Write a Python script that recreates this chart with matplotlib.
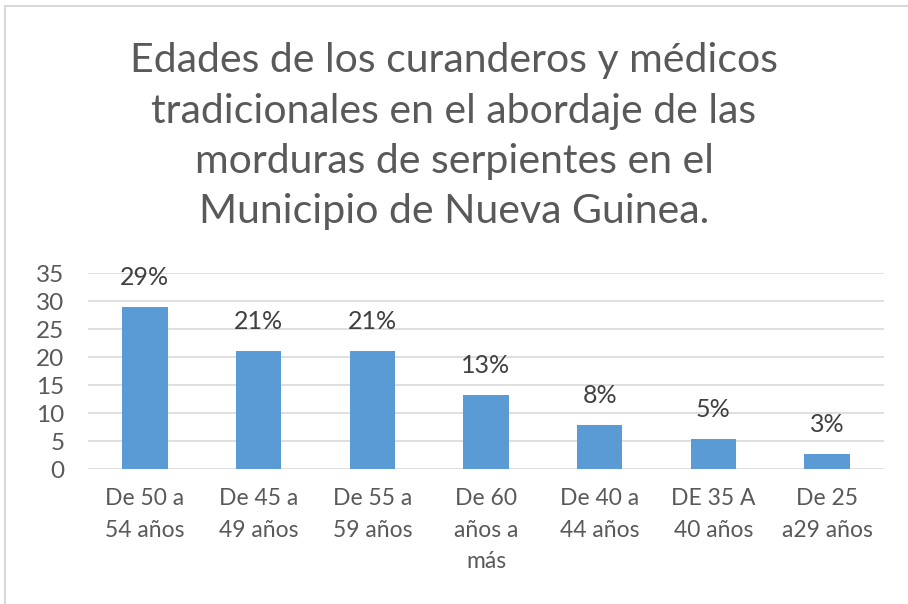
import matplotlib.pyplot as plt
from matplotlib.patches import Rectangle

categorias = ['De 50 a\n54 años', 'De 45 a\n49 años', 'De 55 a\n59 años',
              'De 60\naños a\nmás', 'De 40 a\n44 años', 'DE 35 A\n40 años',
              'De 25\na29 años']
valores = [28.9, 21.1, 21.1, 13.2, 7.9, 5.3, 2.6]
etiquetas = ['29%', '21%', '21%', '13%', '8%', '5%', '3%']
titulo = ('Edades de los curanderos y médicos\ntradicionales en el abordaje de las\n'
          'morduras de serpientes en el\nMunicipio de Nueva Guinea.')

plt.rcParams['font.family'] = ['Lato', 'DejaVu Sans']

fig = plt.figure(figsize=(9.08, 6.04), dpi=100)
# marco del gráfico
fig.patches.append(Rectangle((5 / 908, -0.01), 1.2, 1 - 6 / 604 + 0.01,
                             transform=fig.transFigure, fill=False,
                             edgecolor='#D9D9D9', linewidth=1.5))

ax = fig.add_axes([88 / 908, (604 - 469) / 604, (884 - 88) / 908, (469 - 273) / 604])
x = range(len(categorias))
ax.bar(x, valores, width=0.4, color='#5B9BD5', zorder=3)
for i, (v, t) in enumerate(zip(valores, etiquetas)):
    ax.annotate(t, (i, v), xytext=(0, 13), textcoords='offset points',
                ha='center', va='bottom', fontsize=18, color='#404040')

ax.set_ylim(0, 35)
ax.set_xlim(-0.5, len(categorias) - 0.5)
ax.set_yticks(range(0, 36, 5))
ax.set_xticks(list(x))
ax.set_xticklabels(categorias, fontsize=16.5, color='#595959', linespacing=1.6)
ax.tick_params(axis='y', labelsize=17.5, labelcolor='#595959', length=0, pad=17)
ax.tick_params(axis='x', length=0, pad=14)
ax.grid(axis='y', color='#D9D9D9', linewidth=1.2, zorder=0)
for s in ax.spines.values():
    s.set_visible(False)

fig.text(0.5, 1 - 42 / 604, titulo, ha='center', va='top', fontsize=29.5,
         color='#595959', linespacing=1.45)

fig.savefig('out.png', dpi=100)
